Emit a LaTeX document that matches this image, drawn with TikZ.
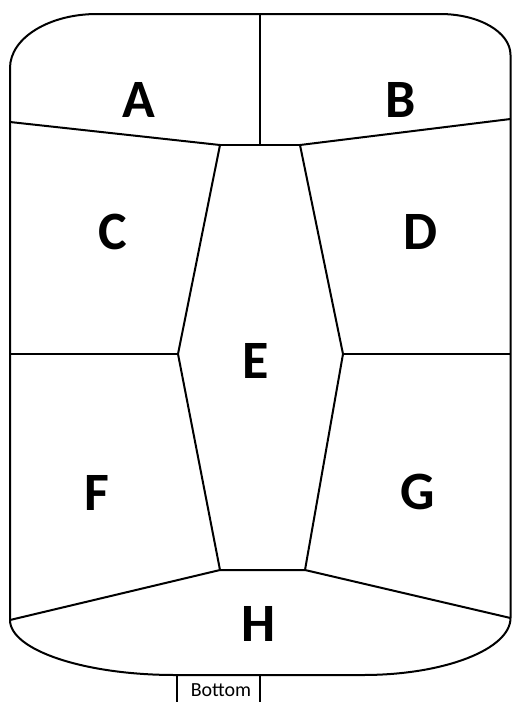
\documentclass[tikz,border=0pt]{standalone}
\usepackage{fontspec}
\setmainfont{Carlito}
\usepackage{tikz}

\begin{document}
\begin{tikzpicture}[
  x=1pt, y=-1pt,
  line width=2pt, line join=round,
  zone/.style={font=\fontsize{54}{54}\selectfont\bfseries, inner sep=0pt},
  every node/.style={font=\fontsize{20}{20}\selectfont}
]
\useasboundingbox (0,0) rectangle (512,702);

% points of the outline
\coordinate (TL) at (10,68);
\coordinate (TLt) at (97,14);
\coordinate (TRt) at (440,14);
\coordinate (TR) at (510.5,55);
\coordinate (BR) at (510.5,618);
\coordinate (BRb) at (363,675);
\coordinate (BLb) at (175,675);
\coordinate (BL) at (10,620);

% points inside
\coordinate (Mtop) at (260,14);
\coordinate (Mmid) at (260,145);
\coordinate (E1) at (220,145);
\coordinate (E2) at (178,354);
\coordinate (E3) at (220,570);
\coordinate (E4) at (305,570);
\coordinate (E5) at (343,354);
\coordinate (E6) at (300,145);
\coordinate (L1) at (10,122);
\coordinate (L2) at (10,354);
\coordinate (R1) at (510.5,119);
\coordinate (R2) at (510.5,354);

\draw (TL) .. controls (10,38) and (49,14) .. (TLt) -- (TRt)
  .. controls (479,14) and (510.5,32) .. (TR) -- (BR)
  .. controls (510.5,649) and (445,675) .. (BRb) -- (BLb)
  .. controls (84,675) and (10,650) .. (BL) -- cycle;

\draw (Mtop) -- (Mmid);
\draw (L1) -- (E1) -- (E2) -- (E3) -- (E4) -- (E5) -- (E6) -- (R1);
\draw (E1) -- (E6);
\draw (L2) -- (E2);
\draw (E5) -- (R2);
\draw (E3) -- (BL);
\draw (E4) -- (BR);

\node[zone] (A) at (139,100) {A};
\node[zone] (B) at (401,100) {B};
\node[zone] (C) at (113,232) {C};
\node[zone] (D) at (421,232) {D};
\node[zone] (E) at (256,361) {E};
\node[zone] (F) at (97,493) {F};
\node[zone] (G) at (418,492) {G};
\node[zone] (H) at (259,624) {H};

% small tab under the outline
\coordinate (tabL) at (177,675);
\coordinate (tabR) at (260,675);
\node (bot) at (221,690) {Bottom};
\draw (tabL) -- (tabL |- 0,703);
\draw (tabR) -- (tabR |- 0,703);
\end{tikzpicture}
\end{document}
